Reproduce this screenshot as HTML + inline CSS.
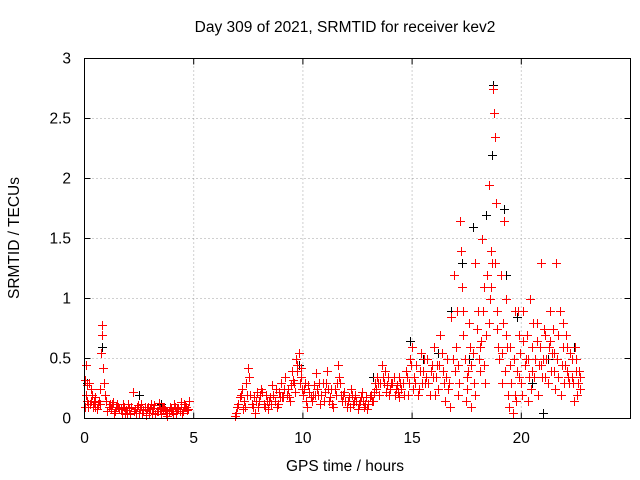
<!DOCTYPE html>
<html><head><meta charset="utf-8"><style>
body{margin:0;background:#fff;}
svg{display:block;font-family:"Liberation Sans",sans-serif;font-size:15.5px;}
</style></head><body>
<svg id="chart" width="640" height="480" viewBox="0 0 640 480">
<rect width="640" height="480" fill="#fff"/>
<text x="345" y="32" text-anchor="middle">Day 309 of 2021, SRMTID for receiver kev2</text>
<text x="345" y="471" text-anchor="middle">GPS time / hours</text>
<text transform="translate(19,238) rotate(-90)" text-anchor="middle">SRMTID / TECUs</text>
<g id="grid"></g>
<g id="ticks"></g>
<g id="black"></g>
<g id="red"></g>
<rect x="84.5" y="58.5" width="546" height="360" fill="none" stroke="#000" stroke-width="1"/>
</svg>
<script>
const xTicks=[0,5,10,15,20];
const yTicks=[0,0.5,1,1.5,2,2.5,3];
const yTickLabels=["0","0.5","1","1.5","2","2.5","3"];
const redT=[0.0,0.05,0.1,0.15,0.2,0.3,0.4,0.5,0.6,0.7,0.75,0.8,0.85,0.9,1.0,1.1,1.2,1.3,1.4,1.5,1.6,1.7,1.8,1.9,2.0,2.1,2.2,2.3,2.4,2.5,2.6,2.7,2.8,2.9,3.0,3.1,3.2,3.3,3.4,3.5,3.6,3.7,3.8,3.9,4.0,4.1,4.2,4.3,4.4,4.5,4.6,4.7,4.8,
0.02,0.12,0.25,0.35,0.45,0.55,0.65,0.95,1.05,1.25,1.45,1.65,1.85,2.05,2.25,2.45,2.65,2.85,3.05,3.25,3.45,3.65,3.85,4.05,4.25,4.45,4.65,
6.9,7.0,7.1,7.2,7.3,7.4,7.5,7.6,7.7,7.8,7.9,8.0,8.1,8.2,8.3,8.4,8.5,8.6,8.7,8.8,8.9,9.0,9.1,9.2,9.3,9.4,9.5,9.6,9.7,9.8,9.9,10.0,10.1,10.2,10.3,10.4,10.5,10.6,10.7,10.8,10.9,11.0,11.1,11.2,11.3,11.4,11.5,11.6,11.7,11.8,11.9,12.0,12.1,12.2,12.3,12.4,12.5,12.6,12.7,12.8,12.9,13.0,13.1,13.2,13.3,13.4,13.5,13.6,13.7,13.8,13.9,14.0,14.1,14.2,14.3,14.4,14.5,
6.95,7.05,7.25,7.45,7.55,7.65,7.85,8.05,8.25,8.45,8.65,8.85,9.05,9.25,9.45,9.65,9.75,9.85,9.95,10.15,10.35,10.55,10.75,10.95,11.15,11.35,11.55,11.75,11.95,12.15,12.35,12.55,12.75,12.95,13.15,13.35,13.55,13.75,13.95,14.15,14.35,14.45,
14.6,14.7,14.8,14.9,15.0,15.1,15.2,15.3,15.4,15.5,15.6,15.7,15.8,15.9,16.0,16.1,16.2,16.3,16.4,16.5,16.6,16.7,16.8,16.9,17.0,17.1,17.2,17.3,17.4,17.5,17.6,17.7,17.8,17.9,18.0,18.1,18.2,18.3,18.4,18.5,18.6,18.7,18.75,18.8,18.85,18.9,19.0,19.1,19.2,19.3,19.4,19.5,19.6,19.7,19.8,19.9,20.0,20.1,20.2,20.3,20.4,20.5,20.6,20.7,20.8,20.9,21.0,21.1,21.2,21.3,21.4,21.5,21.6,21.7,21.8,21.9,22.0,22.1,22.2,22.3,22.4,22.5,22.6,22.7,
14.65,14.85,15.05,15.25,15.45,15.65,15.85,16.05,16.25,16.45,16.65,16.75,16.95,17.05,17.15,17.25,17.35,17.45,17.55,17.65,17.85,17.95,18.05,18.15,18.25,18.35,18.45,18.55,18.65,18.95,19.05,19.15,19.25,19.35,19.45,19.55,19.65,19.75,19.85,19.95,20.05,20.15,20.25,20.35,20.45,20.55,20.65,20.75,20.85,20.95,21.05,21.15,21.25,21.35,21.45,21.55,21.65,21.75,21.85,21.95,22.05,22.15,22.25,22.35,22.45,22.55,22.65];
const redV=[.32,.45,.28,.12,.3,.15,.1,.18,.12,.25,.55,.78,.42,.3,.15,.1,.08,.14,.06,.12,.09,.05,.1,.07,.12,.04,.22,.08,.1,.05,.12,.07,.03,.1,.08,.05,.11,.06,.13,.04,.09,.07,.02,.1,.06,.12,.05,.08,.14,.06,.1,.07,.15,
.1,.15,.12,.2,.14,.08,.15,.2,.06,.12,.1,.08,.04,.09,.06,.11,.05,.08,.12,.04,.08,.1,.06,.04,.09,.05,.1,
.02,.1,.18,.25,.15,.3,.42,.2,.1,.05,.22,.15,.25,.12,.2,.08,.18,.28,.15,.1,.22,.3,.18,.35,.25,.15,.4,.3,.5,.55,.35,.2,.3,.1,.22,.15,.28,.38,.2,.12,.3,.22,.4,.15,.25,.1,.2,.45,.3,.15,.22,.1,.18,.25,.12,.2,.08,.15,.22,.1,.18,.12,.2,.15,.3,.35,.2,.45,.3,.22,.35,.25,.3,.2,.28,.18,.25,
.05,.12,.08,.2,.35,.12,.15,.2,.1,.15,.2,.12,.18,.2,.28,.22,.4,.3,.25,.15,.18,.2,.3,.15,.25,.12,.3,.2,.15,.1,.15,.12,.15,.08,.15,.25,.3,.4,.2,.35,.22,.3,
.3,.4,.2,.5,.6,.35,.45,.25,.55,.4,.3,.5,.2,.45,.6,.35,.25,.7,.4,.15,.5,.3,.85,1.2,.6,.2,1.65,1.1,.5,.25,.8,.1,.55,1.3,.9,.4,1.5,1.1,.7,1.95,1.4,2.75,2.55,2.35,1.8,.9,.5,.3,1.65,1.0,.2,.6,.05,.9,.4,.7,.3,.9,.5,.15,1.0,.6,.35,.8,.45,1.3,.5,.7,.3,.9,.55,.4,1.3,.7,.2,.8,.45,.6,.3,.5,.15,.4,.3,.25,
.2,.3,.25,.2,.3,.35,.4,.2,.45,.3,.25,.1,.4,.9,.3,1.4,.7,.15,.4,.6,.3,.75,.5,.65,.9,.3,1.2,1.0,1.3,.6,1.2,.8,.4,.6,.1,.3,.5,.15,.9,.55,.2,.45,.7,.35,.25,.8,.5,.2,.6,.35,.75,.5,.6,.4,.75,.25,.5,.9,.45,.3,.7,.35,.55,.3,.6,.2,.4];
const redT2=[0.08,0.18,0.28,0.5,0.7,0.82,1.15,1.35,1.55,1.75,1.95,2.15,2.35,2.55,2.75,2.95,3.15,3.35,3.55,3.75,3.95,4.15,4.35,4.55,4.75,
7.15,7.35,7.75,7.95,8.15,8.35,8.55,8.75,8.95,9.15,9.35,9.55,9.72,9.9,10.05,10.25,10.45,10.65,10.85,11.05,11.25,11.45,11.65,11.85,12.05,12.25,12.45,12.65,12.85,13.05,13.25,13.45,13.65,13.85,14.05,14.25,14.42,
14.75,14.95,15.15,15.35,15.55,15.75,15.95,16.15,16.35,16.55,16.85,17.1,17.32,17.5,17.7,17.9,18.1,18.3,18.5,18.6,18.8,18.9,19.1,19.3,19.5,19.7,19.9,20.1,20.3,20.5,20.7,20.9,21.1,21.3,21.5,21.7,21.9,22.1,22.3,22.5,22.7];
const redV2=[.2,.1,.25,.1,.12,.7,.12,.05,.1,.12,.05,.1,.05,.08,.1,.05,.09,.06,.1,.05,.08,.1,.06,.12,.08,
.2,.1,.18,.1,.22,.15,.12,.25,.18,.25,.18,.32,.45,.42,.25,.28,.2,.25,.2,.3,.18,.25,.35,.2,.15,.2,.15,.18,.12,.18,.22,.3,.35,.28,.3,.25,.35,
.35,.45,.3,.4,.5,.3,.35,.45,.55,.35,.5,.45,.9,.35,.45,.2,.6,.45,.8,1.1,1.3,.75,.55,.7,.45,.2,.35,.65,.5,.4,.65,.45,.35,.65,.55,.35,.6,.4,.35,.5,.35];
const blackT=[0.1,0.8,2.5,3.5,9.8,13.2,14.9,15.5,16.2,16.8,17.3,17.6,17.8,18.4,18.65,18.7,19.2,19.3,19.8,20.5,21.0,21.2,21.8,22.4];
const blackV=[.3,.6,.2,.12,.45,.35,.65,.5,.55,.9,1.3,.5,1.6,1.7,2.2,2.78,1.75,1.2,.85,.3,.05,.5,.2,.6];

const X0=84.5,X1=630.5,Y0=418.5,Y1=58.5;
function xs(t){return X0+(t/25)*(X1-X0);}
function ys(v){return Y0-(v/3)*(Y0-Y1);}
const NS="http://www.w3.org/2000/svg";
function mk(tag,attrs,parent){const e=document.createElementNS(NS,tag);for(const k in attrs)e.setAttribute(k,attrs[k]);parent.appendChild(e);return e;}
const grid=document.getElementById('grid'),ticks=document.getElementById('ticks');
xTicks.forEach((t,i)=>{
  const x=xs(t);
  if(t>0){const g=mk('line',{x1:x,x2:x,y1:Y1,y2:Y0,stroke:'#a0a0a0','stroke-dasharray':'1,3'},grid);
  
  }
  mk('line',{x1:x,x2:x,y1:Y0,y2:Y0-6,stroke:'#000'},ticks);
  mk('line',{x1:x,x2:x,y1:Y1,y2:Y1+6,stroke:'#000'},ticks);
  const l=mk('text',{x:x,y:443,'text-anchor':'middle'},ticks);l.textContent=String(t);
  
  
});
yTicks.forEach((v,i)=>{
  const y=ys(v);
  if(v>0&&v<3){const g=mk('line',{x1:X0,x2:X1,y1:y,y2:y,stroke:'#a0a0a0','stroke-dasharray':'1,3'},grid);
  
  }
  mk('line',{x1:X0,x2:X0+6,y1:y,y2:y,stroke:'#000'},ticks);
  mk('line',{x1:X1,x2:X1-6,y1:y,y2:y,stroke:'#000'},ticks);
  const l=mk('text',{x:71,y:y+5,'text-anchor':'end'},ticks);l.textContent=yTickLabels[i];
  
  
});
function plot(T,V,color,gid){
  const g=document.getElementById(gid);
  for(let i=0;i<T.length;i++){
    const x=Math.round(xs(T[i])),y=Math.round(ys(V[i]));
    const h=mk('rect',{x:x-4,y:y,width:9,height:1,fill:color},g);
    
    
    const v=mk('rect',{x:x,y:y-4,width:1,height:9,fill:color},g);
    
    
  }
}
plot(blackT,blackV,'#000','black');
plot(redT,redV,'#ff0000','red');
plot(redT2,redV2,'#ff0000','red');
</script>
</body></html>
